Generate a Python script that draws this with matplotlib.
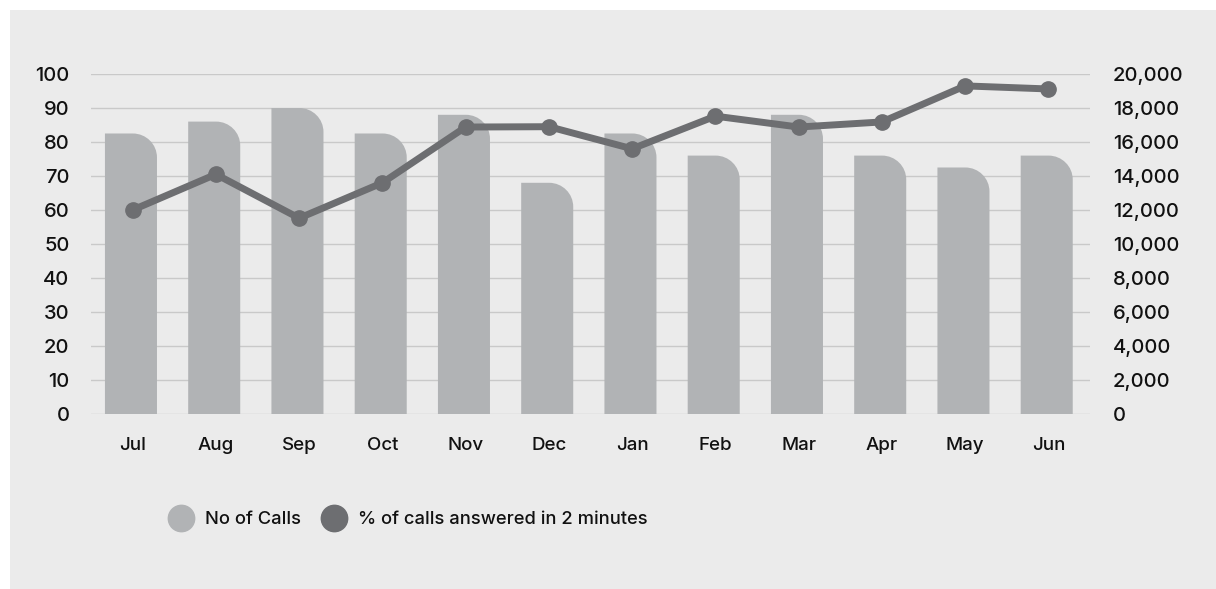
import matplotlib
matplotlib.use("Agg")
import matplotlib.pyplot as plt
from matplotlib.path import Path
from matplotlib.patches import PathPatch, Rectangle
from matplotlib.lines import Line2D
from matplotlib.ticker import FuncFormatter, MultipleLocator

# Monthly call-centre figures
months = ["Jul", "Aug", "Sep", "Oct", "Nov", "Dec", "Jan", "Feb", "Mar", "Apr", "May", "Jun"]
calls = [16500, 17200, 18000, 16500, 17600, 13600, 16500, 15200, 17600, 15200, 14500, 15200]
pct_answered = [60, 70.5, 57.6, 68, 84.4, 84.5, 78, 87.6, 84.4, 85.9, 96.5, 95.6]

BAR_COLOR = "#b1b3b5"
LINE_COLOR = "#6d6e71"
PANEL_COLOR = "#ebebeb"
GRID_COLOR = "#c9c9c9"
TEXT_COLOR = "#111111"
FONT = ["Inter", "DejaVu Sans"]

plt.rcParams["font.family"] = FONT
plt.rcParams["font.weight"] = 500

W, H = 1216, 589
fig = plt.figure(figsize=(W / 100, H / 100), dpi=100, facecolor="white")

# light panel behind everything
fig.add_artist(Rectangle((10 / W, 0), 1 - 10 / W, 1 - 10 / H, transform=fig.transFigure,
                         facecolor=PANEL_COLOR, edgecolor="none", zorder=-10))

left, right, top, bottom = 91, 1090, 74, 414
pos = [left / W, 1 - bottom / H, (right - left) / W, (bottom - top) / H]

ax_bar = fig.add_axes(pos)          # calls (right axis)
ax_pct = ax_bar.twinx()             # percentage (left axis)
ax_pct.set_zorder(ax_bar.get_zorder() + 1)
ax_pct.patch.set_visible(False)
ax_bar.patch.set_visible(False)

ax_bar.set_xlim(-0.5, len(months) - 0.5)
ax_bar.set_ylim(0, 20000)
ax_pct.set_ylim(0, 100)

# bars with a rounded top-right corner
bar_w = 0.625
rx = 0.29          # corner radius in category units
ry = 1410          # corner radius in call units
k = 0.5523
for i, h in enumerate(calls):
    x0, x1 = i - bar_w / 2 - 0.02, i + bar_w / 2 - 0.02
    verts = [(x0, 0), (x0, h), (x1 - rx, h),
             (x1 - rx + k * rx, h), (x1, h - ry + k * ry), (x1, h - ry),
             (x1, 0), (x0, 0)]
    codes = [Path.MOVETO, Path.LINETO, Path.LINETO,
             Path.CURVE4, Path.CURVE4, Path.CURVE4,
             Path.LINETO, Path.CLOSEPOLY]
    ax_bar.add_patch(PathPatch(Path(verts, codes), facecolor=BAR_COLOR,
                               edgecolor="none", zorder=2))

# gridlines under the bars
ax_bar.yaxis.set_major_locator(MultipleLocator(2000))
ax_bar.set_axisbelow(True)
ax_bar.grid(axis="y", color=GRID_COLOR, linewidth=1.0, zorder=0)

# percentage line
ax_pct.plot(range(len(months)), pct_answered, color=LINE_COLOR, linewidth=5,
            marker="o", markersize=11, solid_joinstyle="round", zorder=5)

# ticks and labels
ax_bar.set_xticks(range(len(months)))
ax_bar.set_xticklabels(months)
ax_bar.yaxis.tick_right()
ax_bar.yaxis.set_major_formatter(FuncFormatter(lambda v, p: f"{int(v):,}"))
ax_pct.yaxis.tick_left()
ax_pct.yaxis.set_major_locator(MultipleLocator(10))

ax_bar.tick_params(axis="x", length=0, pad=16.5, colors=TEXT_COLOR, labelsize=13.5)
ax_bar.tick_params(axis="y", length=0, pad=16.5, colors=TEXT_COLOR, labelsize=14.5)
ax_pct.tick_params(axis="y", length=0, pad=15.5, colors=TEXT_COLOR, labelsize=14.5)
for lab in ax_bar.get_yticklabels():
    lab.set_horizontalalignment("left")

for a in (ax_bar, ax_pct):
    for s in a.spines.values():
        s.set_visible(False)

# legend
legend_items = [(181, "No of Calls", BAR_COLOR), (334, "% of calls answered in 2 minutes", LINE_COLOR)]
for px, label, color in legend_items:
    fig.add_artist(Line2D([px / W], [1 - 518 / H], transform=fig.transFigure, marker="o",
                          markersize=19, color=color, linestyle="none"))
    fig.text((px + 24) / W, 1 - 519 / H, label, ha="left", va="center",
             color=TEXT_COLOR, fontsize=13.2)

fig.savefig("out.png", dpi=100, facecolor=fig.get_facecolor())
